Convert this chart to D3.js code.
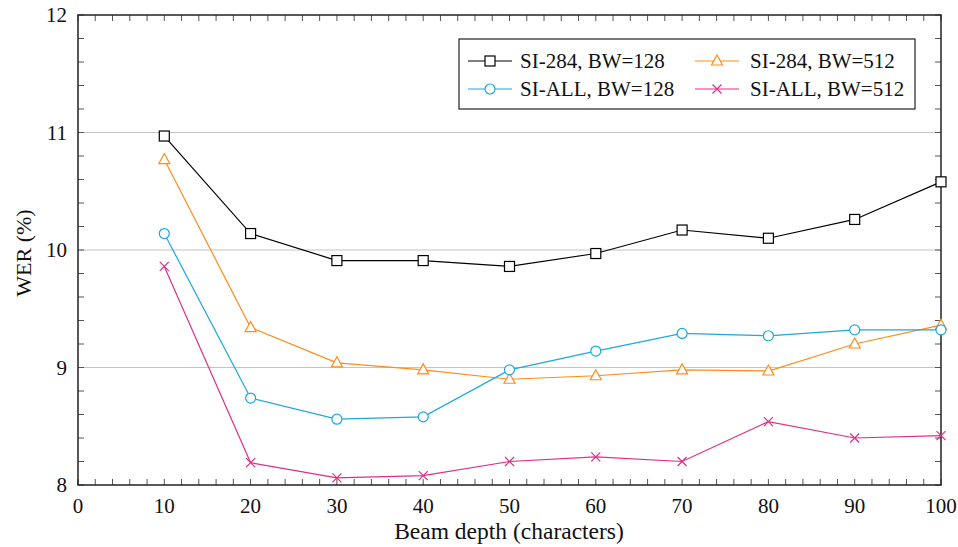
<!DOCTYPE html>
<html>
<head>
<meta charset="utf-8">
<script src="https://cdn.jsdelivr.net/npm/d3@7"></script>
<style>
  html, body { margin: 0; padding: 0; background: #fff; }
  svg { display: block; }
  svg text { font-family: "Liberation Serif", "Times New Roman", Times, "DejaVu Serif", serif; }
</style>
</head>
<body>
<svg id="chart" width="958" height="547"></svg>
<script>
// Beam depth (characters) on the x axis
const beamDepths = [10, 20, 30, 40, 50, 60, 70, 80, 90, 100];

// WER (%) for each system
const si284Bw128 = [10.97, 10.14, 9.91, 9.91, 9.86, 9.97, 10.17, 10.10, 10.26, 10.58];
const si284Bw512 = [10.77, 9.34, 9.04, 8.98, 8.90, 8.93, 8.98, 8.97, 9.20, 9.36];
const siAllBw128 = [10.14, 8.74, 8.56, 8.58, 8.98, 9.14, 9.29, 9.27, 9.32, 9.32];
const siAllBw512 = [9.86, 8.19, 8.06, 8.08, 8.20, 8.24, 8.20, 8.54, 8.40, 8.42];

const seriesNames = ["SI-284, BW=128", "SI-284, BW=512", "SI-ALL, BW=128", "SI-ALL, BW=512"];
const seriesColors = ["#000000", "#ff8c1a", "#1aaade", "#dd2f86"];
const seriesMarkers = ["square", "triangle", "circle", "cross"];

const xTickValues = [0, 10, 20, 30, 40, 50, 60, 70, 80, 90, 100];
const yTickValues = [8, 9, 10, 11, 12];
const gridValues = [9, 10, 11];

const FONT = '"Liberation Serif", "Times New Roman", Times, "DejaVu Serif", serif';

const series = [si284Bw128, si284Bw512, siAllBw128, siAllBw512].map((vals, i) => ({
  name: seriesNames[i],
  color: seriesColors[i],
  marker: seriesMarkers[i],
  points: beamDepths.map((d, j) => ({ x: d, y: vals[j] }))
}));

const svg = d3.select("#chart").attr("font-family", FONT);
const margin = { left: 78, right: 17, top: 15, bottom: 62 };
const W = 958, H = 547;
const x = d3.scaleLinear().domain([0, 100]).range([margin.left, W - margin.right]);
const y = d3.scaleLinear().domain([8, 12]).range([H - margin.bottom, margin.top]);

// horizontal grid lines
svg.append("g").selectAll("line").data(gridValues).join("line")
  .attr("x1", x(0)).attr("x2", x(100))
  .attr("y1", d => y(d)).attr("y2", d => y(d))
  .attr("stroke", "#c4c4c4").attr("stroke-width", 1.2);

// inward ticks on all four sides
const tickLen = 6;
const xMinor = d3.range(0, 101, 2);
const yMinor = d3.range(8, 12.001, 0.2);
const ticks = svg.append("g").attr("stroke", "#555").attr("stroke-width", 1);
ticks.selectAll(".tb").data(xMinor).join("line")
  .attr("x1", d => x(d)).attr("x2", d => x(d))
  .attr("y1", y(8)).attr("y2", y(8) - tickLen);
ticks.selectAll(".tt").data(xMinor).join("line")
  .attr("x1", d => x(d)).attr("x2", d => x(d))
  .attr("y1", y(12)).attr("y2", y(12) + tickLen);
ticks.selectAll(".tl").data(yMinor).join("line")
  .attr("x1", x(0)).attr("x2", x(0) + tickLen)
  .attr("y1", d => y(d)).attr("y2", d => y(d));
ticks.selectAll(".tr").data(yMinor).join("line")
  .attr("x1", x(100)).attr("x2", x(100) - tickLen)
  .attr("y1", d => y(d)).attr("y2", d => y(d));

// frame
svg.append("rect")
  .attr("x", x(0)).attr("y", y(12))
  .attr("width", x(100) - x(0)).attr("height", y(8) - y(12))
  .attr("fill", "none").attr("stroke", "#222").attr("stroke-width", 1.5);

// tick labels
svg.append("g").selectAll("text").data(xTickValues).join("text")
  .attr("x", d => x(d)).attr("y", y(8) + 28)
  .attr("font-family", FONT)
  .attr("text-anchor", "middle").attr("font-size", 21).attr("fill", "#111")
  .text(d => d);
svg.append("g").selectAll("text").data(yTickValues).join("text")
  .attr("x", x(0) - 11).attr("y", d => y(d) + 7)
  .attr("font-family", FONT)
  .attr("text-anchor", "end").attr("font-size", 21).attr("fill", "#111")
  .text(d => d);

// axis titles
svg.append("text")
  .attr("x", 509).attr("y", 539)
  .attr("font-family", FONT)
  .attr("text-anchor", "middle").attr("font-size", 23.5).attr("fill", "#111")
  .text("Beam depth (characters)");
svg.append("text")
  .attr("transform", `translate(31, ${(y(8) + y(12)) / 2 + 3}) rotate(-90)`)
  .attr("font-family", FONT)
  .attr("text-anchor", "middle").attr("font-size", 22).attr("fill", "#111")
  .text("WER (%)");

// marker drawing
function drawMarker(g, type, color) {
  if (type === "square") {
    g.append("rect").attr("x", -5).attr("y", -5).attr("width", 10).attr("height", 10)
      .attr("fill", "#fff").attr("stroke", color).attr("stroke-width", 1.2);
  } else if (type === "triangle") {
    g.append("path").attr("d", "M0,-6 L5.5,4 L-5.5,4 Z")
      .attr("fill", "#fff").attr("stroke", color).attr("stroke-width", 1.2);
  } else if (type === "circle") {
    g.append("circle").attr("r", 5)
      .attr("fill", "#fff").attr("stroke", color).attr("stroke-width", 1.2);
  } else {
    g.append("path").attr("d", "M-4.5,-4.5 L4.5,4.5 M-4.5,4.5 L4.5,-4.5")
      .attr("fill", "none").attr("stroke", color).attr("stroke-width", 1.2);
  }
}

const line = d3.line().x(d => x(d.x)).y(d => y(d.y));
series.forEach(s => {
  svg.append("path").datum(s.points)
    .attr("d", line).attr("fill", "none")
    .attr("stroke", s.color).attr("stroke-width", 1.2);
  svg.append("g").selectAll("g").data(s.points).join("g")
    .attr("transform", d => `translate(${x(d.x)},${y(d.y)})`)
    .each(function () { drawMarker(d3.select(this), s.marker, s.color); });
});

// legend
const legend = svg.append("g");
legend.append("rect")
  .attr("x", 459).attr("y", 39).attr("width", 456).attr("height", 70)
  .attr("fill", "#fff").attr("stroke", "#222").attr("stroke-width", 1.2);
const legendPos = [
  { lx: 468, tx: 520, cy: 61 },
  { lx: 695, tx: 750, cy: 61 },
  { lx: 468, tx: 520, cy: 89 },
  { lx: 695, tx: 750, cy: 89 }
];
series.forEach((s, i) => {
  const p = legendPos[i];
  legend.append("line")
    .attr("x1", p.lx).attr("x2", p.lx + 44).attr("y1", p.cy).attr("y2", p.cy)
    .attr("stroke", s.color).attr("stroke-width", 1.2);
  const g = legend.append("g").attr("transform", `translate(${p.lx + 22},${p.cy})`);
  drawMarker(g, s.marker, s.color);
  legend.append("text")
    .attr("x", p.tx).attr("y", p.cy + 7)
    .attr("font-family", FONT)
    .attr("font-size", 21).attr("fill", "#111")
    .text(s.name);
});
</script>
</body>
</html>
